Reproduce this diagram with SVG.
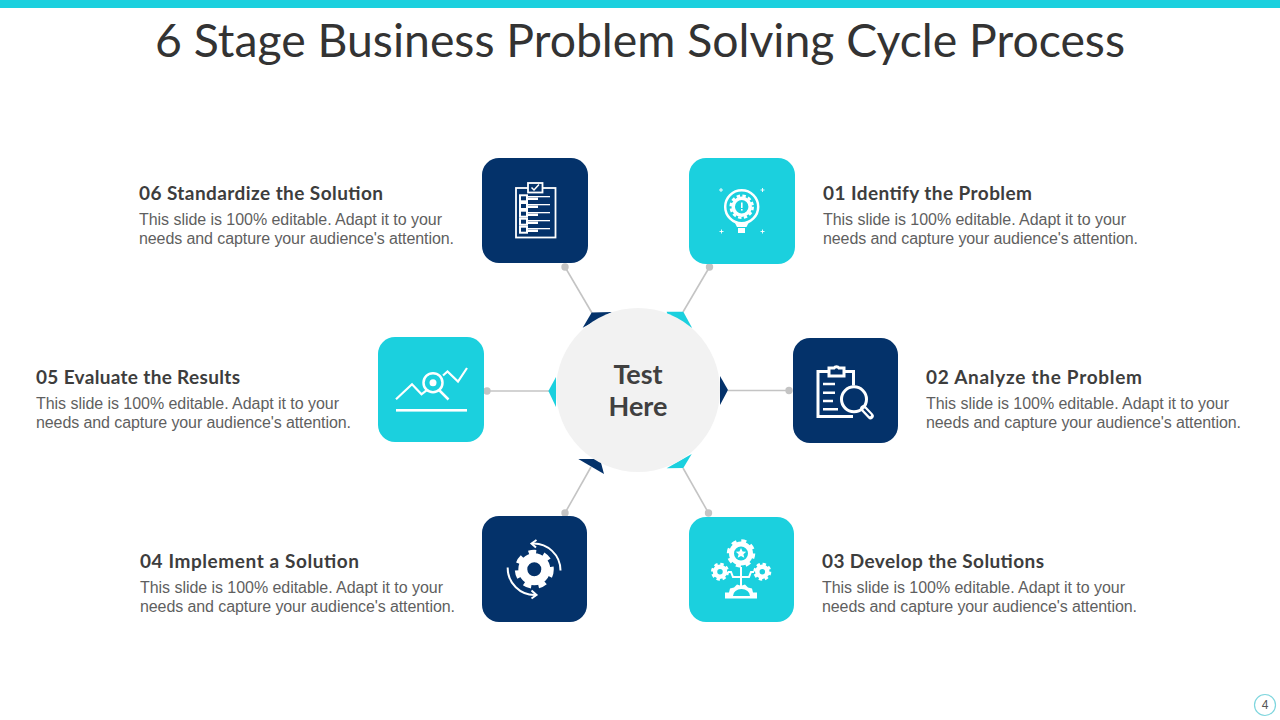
<svg xmlns="http://www.w3.org/2000/svg" width="1280" height="720" viewBox="0 0 1280 720">
<style>
.h{font-family:"Lato","Open Sans",sans-serif;font-weight:700;font-size:19px;fill:#3d3d3d}
.b{font-family:"Liberation Sans",Arial,sans-serif;font-size:16px;fill:#5f5f5f}
.navy{fill:#04326a}.teal{fill:#1bd0de}
.ln{stroke:#c4c4c4;stroke-width:1.6;fill:none}
.dot{fill:#c4c4c4}
.w{fill:#fff}.ws{fill:none;stroke:#fff;stroke-width:2.5}
.wt{fill:none;stroke:#fff;stroke-width:1.6}
</style>
<rect x="0" y="0" width="1280" height="8" class="teal"/>
<text x="640" y="57" text-anchor="middle" textLength="970" lengthAdjust="spacingAndGlyphs" style="font-family:Lato,'Open Sans',sans-serif;font-size:46px;fill:#333">6 Stage Business Problem Solving Cycle Process</text>

<g id="connectors">
<line class="ln" x1="565" y1="267" x2="592" y2="313"/><circle class="dot" cx="565" cy="267" r="3.7"/>
<line class="ln" x1="709.5" y1="267" x2="683" y2="312"/><circle class="dot" cx="709.5" cy="267" r="3.7"/>
<line class="ln" x1="789" y1="390.5" x2="728" y2="390.5"/><circle class="dot" cx="789" cy="390.5" r="3.7"/>
<line class="ln" x1="487" y1="391" x2="549" y2="391"/><circle class="dot" cx="487" cy="391" r="3.7"/>
<line class="ln" x1="565" y1="513" x2="591" y2="467"/><circle class="dot" cx="565" cy="513" r="3.7"/>
<line class="ln" x1="708.5" y1="513" x2="683" y2="468"/><circle class="dot" cx="708.5" cy="513" r="3.7"/>
</g>

<g id="center">
<polygon class="navy" points="591.7,312.5 612,312 582.7,327.7"/>
<polygon class="teal" points="666.7,311.7 683.3,311.7 692,327.7 670,325"/>
<polygon class="navy" points="720,376 728,390 720,405"/>
<polygon class="teal" points="556,377 548.4,391 556,407"/>
<polygon class="navy" points="578.3,459 600,459 604,474"/>
<polygon class="teal" points="691.7,454 666.7,468.3 683.3,468"/>
<circle cx="638" cy="390" r="82" fill="#f2f2f2"/>
<text x="638" y="384" text-anchor="middle" style="font-family:Lato,sans-serif;font-weight:700;font-size:27px;fill:#404040" textLength="49">Test</text>
<text x="638" y="416" text-anchor="middle" style="font-family:Lato,sans-serif;font-weight:700;font-size:27px;fill:#404040" textLength="59">Here</text>
</g>

<g id="node-01">
<rect class="teal" x="689" y="158" width="106" height="106" rx="17"/>
<circle class="ws" cx="741.7" cy="206.7" r="16.5" stroke-width="3"/>
<circle cx="741.7" cy="206.7" r="8.5" fill="none" stroke="#fff" stroke-width="3.5"/>
<circle cx="741.7" cy="206.7" r="11" fill="none" stroke="#fff" stroke-width="2.5" stroke-dasharray="3.4 2.4"/>
<rect class="w" x="741" y="202.5" width="1.6" height="5.5"/><rect class="w" x="741" y="209" width="1.6" height="1.6"/>
<path class="w" d="M735 223h13.500l-2 4h-9.500z"/><rect class="w" x="738" y="228" width="7" height="5"/>
<path class="wt" style="stroke-width:.9" d="M719 190h4M721 188v4M760.500 190h4M762.500 188v4M719.500 231.500h4M721.500 229.500v4M760.500 231.500h4M762.500 229.500v4"/>
</g>
<text class="h" x="823" y="200" textLength="209">01 Identify the Problem</text>
<text class="b" x="823" y="225" textLength="303">This slide is 100% editable. Adapt it to your</text>
<text class="b" x="823" y="244" textLength="315">needs and capture your audience's attention.</text>

<g id="node-02">
<rect class="navy" x="793" y="338" width="105" height="105" rx="17"/>
<path class="ws" style="stroke-width:3" d="M828 371.500h-10v45h35"/>
<path class="ws" style="stroke-width:3" d="M844 371.500h9.500v14"/>
<path class="ws" style="stroke-width:3" d="M829 376v-8h5a3 3 0 0 1 5 0h5v8z"/>
<path class="ws" d="M823 384h12M823 392.700h12M823 401h10M823 409.300h15"/>
<circle class="ws" style="stroke-width:3" cx="854" cy="399.300" r="12.500"/>
<path d="M863.500 408.500l7 7.500" stroke="#fff" stroke-width="6.500" stroke-linecap="round" fill="none"/>
<path d="M864.500 409.500l5.500 5.700" stroke="#04326a" stroke-width="2" stroke-linecap="round" fill="none"/>
</g>
<text class="h" x="926" y="384" textLength="216">02 Analyze the Problem</text>
<text class="b" x="926" y="409" textLength="303">This slide is 100% editable. Adapt it to your</text>
<text class="b" x="926" y="428" textLength="315">needs and capture your audience's attention.</text>

<g id="node-03">
<rect class="teal" x="689" y="517" width="105" height="105" rx="17"/>
<circle cx="741" cy="553.500" r="9.500" fill="none" stroke="#fff" stroke-width="5"/>
<circle cx="741" cy="553.500" r="12.500" fill="none" stroke="#fff" stroke-width="3.500" stroke-dasharray="5 4.800"/>
<path class="w" d="M741 548l1.600 3.500 3.600.3-2.800 2.400.9 3.600-3.300-1.900-3.300 1.900.9-3.600-2.800-2.400 3.600-.3z"/>
<circle cx="720" cy="571.700" r="5" fill="none" stroke="#fff" stroke-width="4.500"/>
<circle cx="720" cy="571.700" r="7.500" fill="none" stroke="#fff" stroke-width="3" stroke-dasharray="3.300 2.600"/>
<circle cx="762.300" cy="571.700" r="5" fill="none" stroke="#fff" stroke-width="4.500"/>
<circle cx="762.300" cy="571.700" r="7.500" fill="none" stroke="#fff" stroke-width="3" stroke-dasharray="3.300 2.600"/>
<path class="wt" style="stroke-width:2" d="M741 567v20M741 577h-8l-2-5h-3M741 577h8l2-5h3"/>
<path class="w" d="M725 598.500v-6h4l1-4 4-1 3-3 3 1h2l3-1 3 3 4 1 1 4h4v6z"/>
<path class="teal" d="M733 596a8.500 7 0 0 1 17 0z"/>
</g>
<text class="h" x="822" y="568" textLength="222">03 Develop the Solutions</text>
<text class="b" x="822" y="593" textLength="303">This slide is 100% editable. Adapt it to your</text>
<text class="b" x="822" y="612" textLength="315">needs and capture your audience's attention.</text>

<g id="node-04">
<rect class="navy" x="482" y="516" width="105" height="106" rx="17"/>
<circle cx="534.300" cy="569.300" r="11.500" fill="none" stroke="#fff" stroke-width="9"/>
<circle cx="534.300" cy="569.300" r="17" fill="none" stroke="#fff" stroke-width="5" stroke-dasharray="7.500 7.300"/>
<path class="ws" style="stroke-width:2" d="M532 543.500a27 27 0 0 1 28.500 27"/>
<path class="ws" style="stroke-width:2" d="M536.500 540l-5 3.500 4.500 4"/>
<path class="ws" style="stroke-width:2" d="M507.700 567.500a27 27 0 0 0 28 27.500"/>
<path class="ws" style="stroke-width:2" d="M531.500 590.500l5 4.500-5 3.500"/>
</g>
<text class="h" x="140" y="568" textLength="219">04 Implement a Solution</text>
<text class="b" x="140" y="593" textLength="303">This slide is 100% editable. Adapt it to your</text>
<text class="b" x="140" y="612" textLength="315">needs and capture your audience's attention.</text>

<g id="node-05">
<rect class="teal" x="378" y="337" width="106" height="105" rx="17"/>
<path class="ws" style="stroke-width:2.200" d="M396 399.300l16-15 9.500 10 5-4M443 375.500l4.500-4 10.500 10 9-13.500"/>
<circle class="ws" cx="433" cy="382.700" r="9.500"/>
<circle cx="433" cy="382.700" r="3.500" fill="#fff"/>
<path class="ws" d="M439.500 390.500l9 9"/>
<rect class="w" x="396" y="409" width="71" height="2.600"/>
</g>
<text class="h" x="36" y="384" textLength="204">05 Evaluate the Results</text>
<text class="b" x="36" y="409" textLength="303">This slide is 100% editable. Adapt it to your</text>
<text class="b" x="36" y="428" textLength="315">needs and capture your audience's attention.</text>

<g id="node-06">
<rect class="navy" x="482" y="158" width="106" height="105" rx="17"/>
<rect class="ws" style="stroke-width:1.800" x="516" y="188" width="39.500" height="49.500"/>
<rect x="528" y="183" width="14.500" height="9.500" fill="#04326a" stroke="#fff" stroke-width="1.800"/>
<path class="ws" style="stroke-width:1.500" d="M531.500 187.500l2.500 2.500 5-5.500"/>
<g fill="#04326a" stroke="#fff" stroke-width="2">
<rect x="520" y="195.300" width="7" height="6"/><rect x="520" y="203" width="7" height="6"/><rect x="520" y="210.700" width="7" height="6"/><rect x="520" y="218.700" width="7" height="6"/><rect x="520" y="226.700" width="7" height="6"/>
</g>
<g class="w"><rect x="528" y="196" width="22" height="1.300"/><rect x="528" y="197.500" width="10" height="2.500"/><rect x="528" y="204" width="22" height="1.300"/><rect x="528" y="205.500" width="10" height="2.500"/><rect x="528" y="212" width="22" height="1.300"/><rect x="528" y="213.500" width="10" height="2.500"/><rect x="528" y="220" width="22" height="1.300"/><rect x="528" y="221.500" width="10" height="2.500"/><rect x="528" y="228" width="22" height="1.300"/><rect x="528" y="229.500" width="10" height="2.500"/></g>
</g>
<text class="h" x="139" y="200" textLength="244">06 Standardize the Solution</text>
<text class="b" x="139" y="225" textLength="303">This slide is 100% editable. Adapt it to your</text>
<text class="b" x="139" y="244" textLength="315">needs and capture your audience's attention.</text>

<circle cx="1265" cy="705" r="10.500" fill="none" stroke="#7fd6de" stroke-width="1.200"/>
<text x="1265" y="709" text-anchor="middle" style="font-family:'Liberation Sans',sans-serif;font-size:12px;fill:#555">4</text>
</svg>
